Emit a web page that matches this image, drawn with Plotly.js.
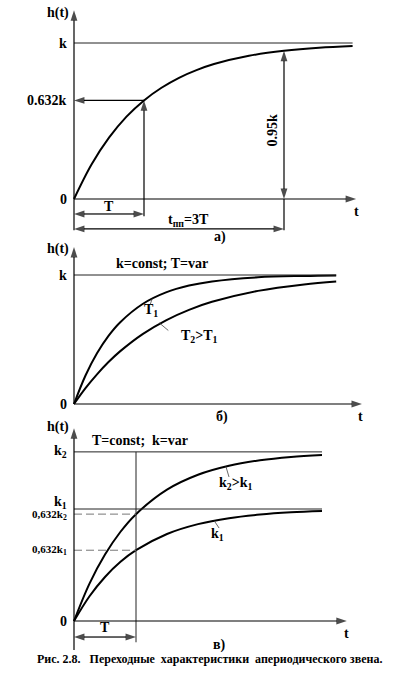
<!DOCTYPE html>
<html><head><meta charset="utf-8">
<script src="https://cdn.plot.ly/plotly-3.0.1.min.js"></script>
<style>html,body{margin:0;padding:0;background:#fff}</style></head>
<body><div id="chart" style="width:394px;height:693px"></div>
<script>
// ---------- DATA ----------
// Panel а): t in units of T, h in units of k
const tA = [0,0.25,0.5,0.75,1,1.25,1.5,1.75,2,2.5,3,3.5,3.98];
const hA = [0,0.221,0.393,0.528,0.632,0.713,0.777,0.826,0.865,0.918,0.950,0.970,0.981];
const ticksA = [0, 0.632, 1];
const tickTextA = ['0', '0.632k', 'k'];
const T_A = 1, H_T = 0.632, TPP = 3, H_95 = 0.95, K_A = 1;

// Panel б): t in units of T1, h in units of k
const tB  = [0,0.25,0.5,0.75,1,1.5,2,2.5,3,4,5,5.7];
const hB1 = [0,0.221,0.393,0.528,0.632,0.777,0.865,0.918,0.950,0.982,0.993,0.997];
const hB2 = [0,0.123,0.230,0.325,0.408,0.544,0.649,0.730,0.792,0.877,0.927,0.949];
const ticksB = [0, 1];
const tickTextB = ['0', 'k'];
const K_B = 1;

// Panel в): t in units of T, h in units of k1
const tC  = [0,0.25,0.5,0.75,1,1.5,2,2.5,3,3.5,4];
const hC1 = [0,0.221,0.393,0.528,0.632,0.777,0.865,0.918,0.950,0.970,0.982];
const hC2 = [0,0.334,0.593,0.797,0.954,1.173,1.306,1.386,1.435,1.465,1.483];
const K1 = 1, K2 = 1.51, T_C = 1;
const ticksC = [0, 0.632, 0.954, 1, 1.51];
const tickTextC = ['0', '0,632k<sub>1</sub>', '0,632k<sub>2</sub>', 'k<sub>1</sub>', 'k<sub>2</sub>'];

const caption = 'Рис. 2.8.\u00a0\u00a0\u00a0Переходные\u00a0 характеристики\u00a0 апериодического звена.';

// ---------- LAYOUT HELPERS ----------
const W = 394, H = 693;
const FONT = "'Liberation Serif', 'Times New Roman', Times, serif";
function xRange(x0, s) { return [-x0 / s, (W - x0) / s]; }
function yAxis(top, bot, y0, s, anchor) {
  return {domain: [1 - bot / H, 1 - top / H], range: [(y0 - bot) / s, (y0 - top) / s],
          visible: false, fixedrange: true, anchor: anchor};
}
const refs = {1: ['x', 'y'], 2: ['x2', 'y2'], 3: ['x3', 'y3']};
const traces = [];
const annotations = [];

function line(p, xs, ys, opt) {
  opt = opt || {};
  traces.push({type: 'scatter', mode: 'lines', x: xs, y: ys, xaxis: refs[p][0], yaxis: refs[p][1],
    line: {color: opt.color || '#000', width: opt.width || 1.2, dash: opt.dash || 'solid',
           shape: opt.shape || 'linear', smoothing: 1},
    hoverinfo: 'skip', showlegend: false, cliponaxis: false});
}
function arrow(p, from, to) {
  traces.push({type: 'scatter', mode: 'lines+markers', x: [from[0], to[0]], y: [from[1], to[1]],
    xaxis: refs[p][0], yaxis: refs[p][1],
    line: {color: '#000', width: 1.2},
    marker: {symbol: 'arrow', angleref: 'previous', size: [0, 11], color: '#000', line: {width: 0}},
    hoverinfo: 'skip', showlegend: false, cliponaxis: false});
}
function dblArrow(p, a, b) {
  const m = [(a[0] + b[0]) / 2, (a[1] + b[1]) / 2];
  arrow(p, m, a); arrow(p, m, b);
}
function text(p, x, y, t, opt) {
  opt = opt || {};
  annotations.push(Object.assign({xref: refs[p][0], yref: refs[p][1], x: x, y: y, text: t,
    showarrow: false, font: {family: FONT, size: opt.size || 14, color: '#000', weight: 'bold'}}, opt.extra || {}));
}
function yLabels(p, vals, labels, sizes, shifts) {
  vals.forEach((v, i) => text(p, 0, v, labels[i], {size: sizes ? sizes[i] : 14,
    extra: {xanchor: 'right', xshift: -5, yshift: shifts ? shifts[i] : 0}}));
}

// ---------- PANEL а ----------
line(1, tA, hA, {width: 2, shape: 'spline'});
line(1, [0, tA[tA.length - 1]], [K_A, K_A], {width: 1, color: '#222'});
arrow(1, [0, -0.2], [0, 1.21]);
arrow(1, [0, 0], [4.03, 0]);
arrow(1, [T_A, H_T], [0, H_T]);
arrow(1, [T_A, -0.11], [T_A, H_T]);
line(1, [TPP, TPP], [-0.2, 0]);
dblArrow(1, [TPP, 0], [TPP, H_95]);
dblArrow(1, [0, -0.096], [T_A, -0.096]);
dblArrow(1, [0, -0.192], [TPP, -0.192]);
yLabels(1, ticksA, tickTextA);
text(1, -0.23, 1.19, 'h(t)');
text(1, T_A / 2, -0.05, 'T');
text(1, 1.63, -0.14, 't<sub>пп</sub>=3T');
text(1, 2.83, 0.44, '0.95k', {extra: {textangle: -90}});
text(1, 4.03, -0.083, 't');
text(1, 2.09, -0.245, 'а)');

// ---------- PANEL б ----------
line(2, tB, hB1, {width: 2, shape: 'spline'});
line(2, tB, hB2, {width: 2, shape: 'spline'});
line(2, [0, tB[tB.length - 1]], [K_B, K_B], {width: 1, color: '#222'});
arrow(2, [0, 0], [0, 1.217]);
arrow(2, [0, 0], [6.26, 0]);
yLabels(2, ticksB, tickTextB);
text(2, -0.35, 1.2, 'h(t)');
text(2, 1.91, 1.093, 'k=const; T=var');
line(2, [1.7, 1.66], [0.817, 0.775], {width: 0.8, color: '#444'});
text(2, 1.67, 0.725, 'T<sub>1</sub>');
line(2, [1.85, 2.05], [0.63, 0.57], {width: 0.8, color: '#444'});
text(2, 2.72, 0.525, 'T<sub>2</sub>&gt;T<sub>1</sub>');
text(2, 3.22, -0.1, 'б)');
text(2, 6.22, -0.1, 't');

// ---------- PANEL в ----------
line(3, tC, hC2, {width: 2, shape: 'spline'});
line(3, tC, hC1, {width: 2, shape: 'spline'});
line(3, [0, tC[tC.length - 1]], [K2, K2], {width: 1, color: '#222'});
line(3, [0, tC[tC.length - 1]], [K1, K1], {width: 1, color: '#222'});
line(3, [T_C, T_C], [-0.19, K2], {width: 1, color: '#222'});
line(3, [0, T_C], [0.632 * K2, 0.632 * K2], {width: 1, color: '#777', dash: '8px,4px'});
line(3, [0, T_C], [0.632 * K1, 0.632 * K1], {width: 1, color: '#777', dash: '8px,4px'});
arrow(3, [0, -0.26], [0, 1.72]);
arrow(3, [0, 0], [4.4, 0]);
dblArrow(3, [0, -0.143], [T_C, -0.143]);
yLabels(3, ticksC, tickTextC, [14, 11, 11, 14, 14], [0, 0, -1, 7, 0]);
text(3, -0.26, 1.73, 'h(t)');
text(3, 1.06, 1.616, 'T=const;\u00a0 k=var');
line(3, [2.45, 2.5], [1.38, 1.286], {width: 0.8, color: '#444'});
text(3, 2.6, 1.23, 'k<sub>2</sub>&gt;k<sub>1</sub>');
line(3, [2.26, 2.34], [0.896, 0.83], {width: 0.8, color: '#444'});
text(3, 2.32, 0.77, 'k<sub>1</sub>');
text(3, T_C / 2, -0.054, 'T');
text(3, 2.35, -0.214, 'в)');
text(3, 4.4, -0.116, 't');

annotations.push({xref: 'paper', yref: 'paper', x: 209 / W, y: 1 - 668 / H, text: caption, showarrow: false,
  font: {family: FONT, size: 12, color: '#000', weight: 'bold'}});

const layout = {
  width: W, height: H, margin: {l: 0, r: 0, t: 0, b: 0}, paper_bgcolor: '#fff', plot_bgcolor: 'rgba(0,0,0,0)',
  showlegend: false, hovermode: false,
  xaxis:  {domain: [0, 1], range: xRange(74, 70), visible: false, fixedrange: true, anchor: 'y'},
  yaxis:  yAxis(0, 238, 199, 156, 'x'),
  xaxis2: {domain: [0, 1], range: xRange(74, 46), visible: false, fixedrange: true, anchor: 'y2'},
  yaxis2: yAxis(238, 425, 404, 129, 'x2'),
  xaxis3: {domain: [0, 1], range: xRange(74, 62), visible: false, fixedrange: true, anchor: 'y3'},
  yaxis3: yAxis(425, 693, 621, 112, 'x3'),
  annotations: annotations
};
Plotly.newPlot('chart', traces, layout, {displayModeBar: false, staticPlot: true});
</script></body></html>
